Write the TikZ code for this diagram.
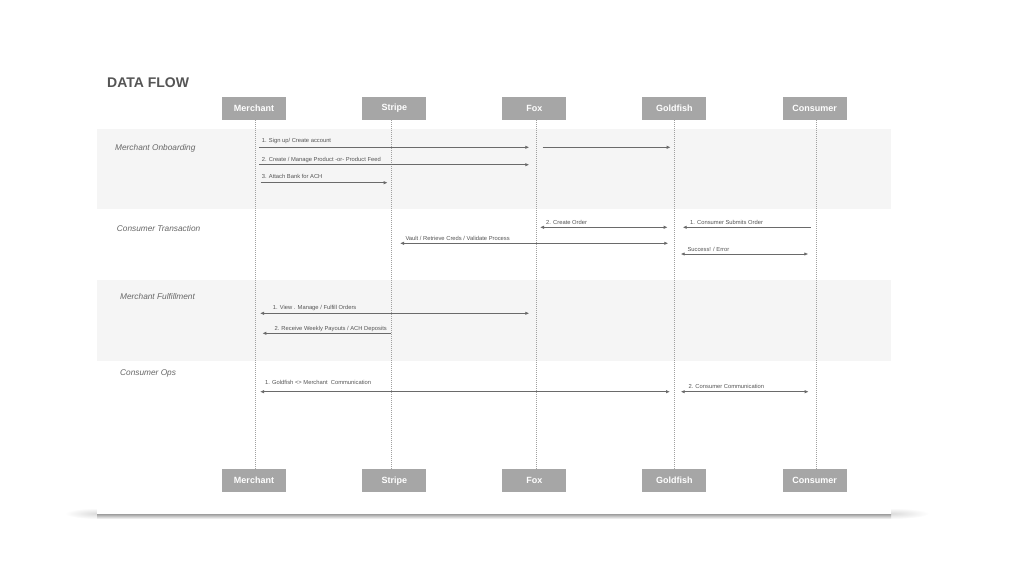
\documentclass[tikz,border=0pt]{standalone}
\usepackage{fontspec}
\setmainfont{Liberation Sans}
\usetikzlibrary{arrows.meta}
\definecolor{boxgray}{HTML}{A6A6A6}
\definecolor{bandgray}{HTML}{F5F5F5}
\definecolor{msggray}{HTML}{6A6A6A}
\definecolor{lblgray}{HTML}{555555}
\definecolor{secgray}{HTML}{666666}
\definecolor{lifegray}{HTML}{A0A0A0}
\tikzset{
  actor/.style={fill=boxgray, draw=none, minimum width=64pt, minimum height=23pt, inner sep=0pt,
    text=white, font=\fontsize{9}{10}\selectfont\bfseries},
  lifeline/.style={draw=lifegray, line width=0.5pt, dash pattern=on 1pt off 1pt},
  msg/.style={draw=msggray, line width=0.8pt, -{Latex[length=4pt,width=3.4pt]}},
  msgboth/.style={draw=msggray, line width=0.8pt, {Latex[length=4pt,width=3.4pt]}-{Latex[length=4pt,width=3.4pt]}},
  msglbl/.style={anchor=base west, inner sep=0pt, text=lblgray, font=\fontsize{5.8}{6.5}\selectfont},
  section/.style={anchor=base west, inner sep=0pt, text=secgray, font=\fontsize{8.3}{9}\selectfont\itshape},
}
\begin{document}
\begin{tikzpicture}[x=1pt,y=-1pt]
\useasboundingbox (0,0) rectangle (1023,576);
% card shadow
\shade[inner color=black!14, outer color=white] (97,513.5) ellipse (32 and 5.5);
\shade[inner color=black!14, outer color=white] (891,513.5) ellipse (38 and 5.5);
\shade[top color=black!38, bottom color=white] (97,514) rectangle (891,519);
% card
\fill[white] (97,60) rectangle (891,514);
\fill[bandgray] (97,129) rectangle (891,209);
\fill[bandgray] (97,280) rectangle (891,361);
% title
\node[anchor=base west, inner sep=0pt, text=lblgray, font=\fontsize{14}{16}\selectfont\bfseries] (title) at (107,87) {DATA FLOW};
% actors
\node[actor] (mT) at (254,108.5) {Merchant};
\node[actor] (sT) at (394.3,108.5) {Stripe};
\node[actor] (fT) at (534.3,108.5) {Fox};
\node[actor] (gT) at (674.3,108.5) {Goldfish};
\node[actor] (cT) at (814.7,108.5) {Consumer};
\node[actor] (mB) at (254,480.7) {Merchant};
\node[actor] (sB) at (394.3,480.7) {Stripe};
\node[actor] (fB) at (534.3,480.7) {Fox};
\node[actor] (gB) at (674.3,480.7) {Goldfish};
\node[actor] (cB) at (814.7,480.7) {Consumer};
% lifeline x positions
\coordinate (mL) at (255.7,0);
\coordinate (sL) at (391.7,0);
\coordinate (fL) at (536,0);
\coordinate (gL) at (674,0);
\coordinate (cL) at (816,0);
\draw[lifeline] (mL |- mT.south) -- (mL |- mB.north);
\draw[lifeline] (sL |- sT.south) -- (sL |- sB.north);
\draw[lifeline] (fL |- fT.south) -- (fL |- fB.north);
\draw[lifeline] (gL |- gT.south) -- (gL |- gB.north);
\draw[lifeline] (cL |- cT.south) -- (cL |- cB.north);
% rows
\coordinate (r1) at (0,147.3);
\coordinate (r2) at (0,164.7);
\coordinate (r3) at (0,182.7);
\coordinate (t1) at (0,227.3);
\coordinate (t2) at (0,243.3);
\coordinate (t3) at (0,254);
\coordinate (f1) at (0,313.3);
\coordinate (f2) at (0,333.3);
\coordinate (o1) at (0,391.7);
% section labels
\node[section] (secA) at (115,150.5) {Merchant Onboarding};
\node[section] (secB) at (116.7,231) {Consumer Transaction};
\node[section] (secC) at (120,299) {Merchant Fulfillment};
\node[section] (secD) at (120,375) {Consumer Ops};
% Merchant onboarding
\draw[msg] ([xshift=3.3pt]mL |- r1) -- ([xshift=-6.7pt]fL |- r1);
\draw[msg] ([xshift=6.7pt]fL |- r1) -- ([xshift=-3.3pt]gL |- r1);
\node[msglbl] (l1) at (261.7,142.8) {1. Sign up/ Create account};
\draw[msg] ([xshift=3.3pt]mL |- r2) -- ([xshift=-6.7pt]fL |- r2);
\node[msglbl] (l2) at (261.7,161.3) {2. Create / Manage Product -or- Product Feed};
\draw[msg] ([xshift=5pt]mL |- r3) -- ([xshift=-4pt]sL |- r3);
\node[msglbl] (l3) at (261.7,178.8) {3. Attach Bank for ACH};
% Consumer transaction
\draw[msgboth] ([xshift=4pt]fL |- t1) -- ([xshift=-6.3pt]gL |- t1);
\node[msglbl] (l4) at (546,224) {2. Create Order};
\draw[msg] ([xshift=-5.3pt]cL |- t1) -- ([xshift=8.7pt]gL |- t1);
\node[msglbl] (l5) at (690,224) {1. Consumer Submits Order};
\draw[msgboth] ([xshift=8.3pt]sL |- t2) -- ([xshift=-5.7pt]gL |- t2);
\node[msglbl] (l6) at (405.3,240.7) {Vault / Retrieve Creds / Validate Process};
\draw[msgboth] ([xshift=6.7pt]gL |- t3) -- ([xshift=-7.7pt]cL |- t3);
\node[msglbl] (l7) at (687.3,251.3) {Success! / Error};
% Merchant fulfillment
\draw[msgboth] ([xshift=4.3pt]mL |- f1) -- ([xshift=-6.7pt]fL |- f1);
\node[msglbl] (l8) at (272.7,309.3) {1. View . Manage / Fulfill Orders};
\draw[msg] ([xshift=-0.7pt]sL |- f2) -- ([xshift=6.6pt]mL |- f2);
\node[msglbl] (l9) at (274.3,330.3) {2. Receive Weekly Payouts / ACH Deposits};
% Consumer ops
\draw[msgboth] ([xshift=4.3pt]mL |- o1) -- ([xshift=-4pt]gL |- o1);
\node[msglbl] (l10) at (265,384.3) {1. Goldfish <> Merchant\ \ Communication};
\draw[msgboth] ([xshift=6.7pt]gL |- o1) -- ([xshift=-7.3pt]cL |- o1);
\node[msglbl] (l11) at (688.3,388.7) {2. Consumer Communication};
\end{tikzpicture}
\end{document}
